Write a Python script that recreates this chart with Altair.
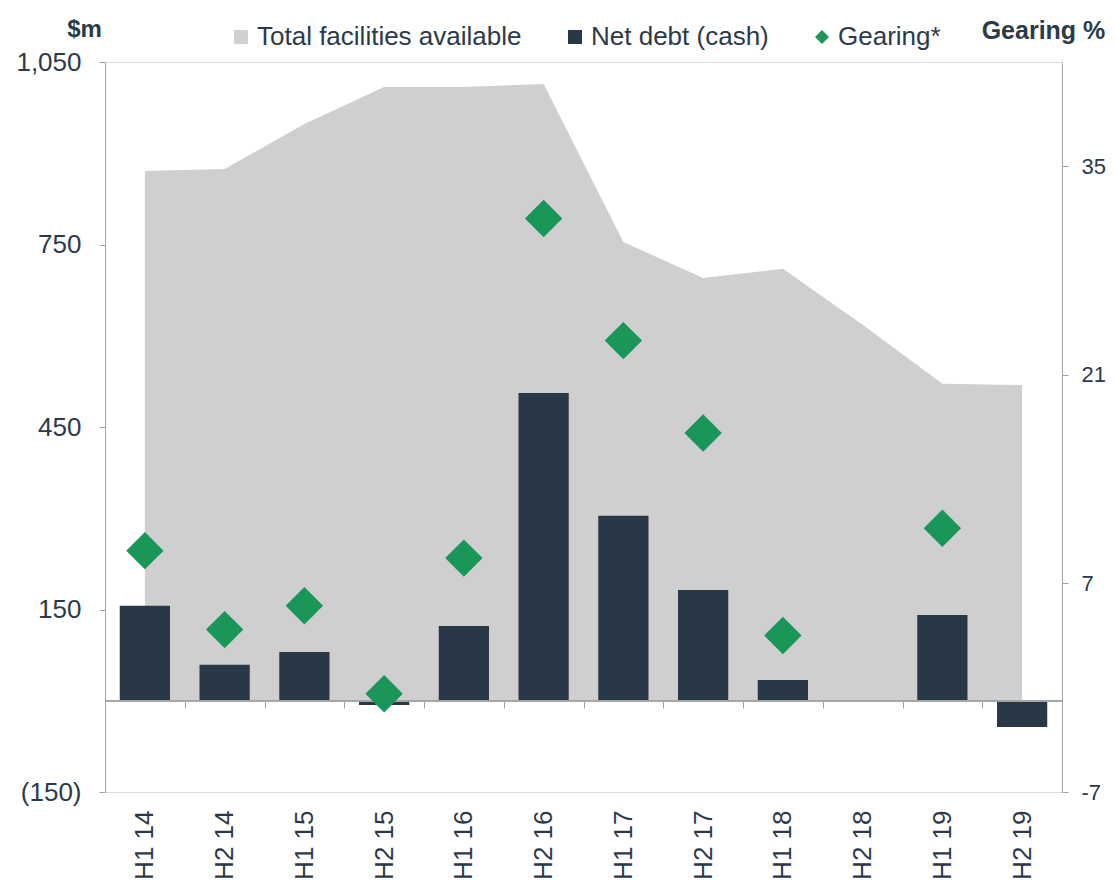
import altair as alt
import pandas as pd

periods = ["H1 14", "H2 14", "H1 15", "H2 15", "H1 16", "H2 16",
           "H1 17", "H2 17", "H1 18", "H2 18", "H1 19", "H2 19"]
facilities = [871, 874, 948, 1009, 1009, 1014, 754, 695, 710, 618, 521, 519]
net_debt = [156, 59, 80, -7, 123, 506, 304, 182, 34, 0, 141, -43]
gearing = [9.2, 3.9, 5.5, -0.4, 8.7, 31.5, 23.3, 17.1, 3.5, None, 10.7, None]

series_names = ["Total facilities available", "Net debt (cash)", "Gearing*"]
series_colors = ["#d0cfd0", "#293846", "#1a9659"]
series_shapes = ["square", "square", "diamond"]

left_ticks = [-150, 150, 450, 750, 1050]
right_ticks = [-7, 7, 21, 35]

df = pd.DataFrame({"period": periods, "facilities": facilities,
                   "net_debt": net_debt, "gearing": gearing})

FONT = "Liberation Sans"
TXT = "#2b3a4a"
AX = "#a6a6a6"

legend = alt.Legend(
    title=None, orient="none", direction="horizontal", legendX=123, legendY=-38,
    labelFontSize=26, labelFont=FONT, labelColor=TXT, symbolSize=196,
    columnPadding=40, labelOffset=3, symbolStrokeWidth=0, labelLimit=500,
)
color_scale = alt.Scale(domain=series_names, range=series_colors)
shape_scale = alt.Scale(domain=series_names, range=series_shapes)

x_enc = alt.X(
    "period:N", sort=periods,
    scale=alt.Scale(paddingInner=0, paddingOuter=0),
    axis=alt.Axis(title=None, offset=-99, domain=False, tickBand="extent",
                  tickSize=15, tickColor=AX, tickWidth=1,
                  labelAngle=270, labelAlign="right", labelBaseline="middle",
                  labelPadding=102, labelFontSize=26, labelFont=FONT,
                  labelColor=TXT),
)

y_left = alt.Scale(domain=[-150, 1050], nice=False, zero=False)
y_left_axis = alt.Axis(
    title="$m", values=left_ticks, grid=False, domainColor=AX, tickColor=AX,
    tickSize=6, labelPadding=18, labelFontSize=26, labelFont=FONT, labelColor=TXT,
    labelExpr="datum.value < 0 ? '(' + format(-datum.value, ',') + ')' : format(datum.value, ',')",
    titleAngle=0, titleX=-21, titleY=-33, titleAlign="center", titleBaseline="middle",
    titleFontSize=24, titleFont=FONT, titleFontWeight="bold", titleColor=TXT,
)

base = alt.Chart(df)

area = base.transform_calculate(series="'Total facilities available'").mark_area(
    opacity=1).encode(
    x=x_enc,
    y=alt.Y("facilities:Q", scale=y_left, axis=y_left_axis),
    y2=alt.datum(0),
    color=alt.Color("series:N", scale=color_scale, legend=legend),
)

bars = base.transform_calculate(series="'Net debt (cash)'").mark_bar(
    width=alt.RelativeBandSize(0.63)).encode(
    x=x_enc,
    y=alt.Y("net_debt:Q", scale=y_left, axis=y_left_axis),
    y2=alt.datum(0),
    color=alt.Color("series:N", scale=color_scale, legend=legend),
)

zero = base.mark_rule(color=AX, strokeWidth=1.5).encode(
    y=alt.Y(datum=0, scale=y_left, axis=y_left_axis))

left = alt.layer(area, bars, zero)

points = base.transform_filter("isValid(datum.gearing)").transform_calculate(
    series="'Gearing*'").mark_point(filled=True, size=1400, opacity=1).encode(
    x=x_enc,
    y=alt.Y("gearing:Q", scale=alt.Scale(domain=[-7, 42], nice=False, zero=False),
            axis=alt.Axis(title="Gearing %", orient="right", values=right_ticks,
                          grid=False, domainColor=AX, tickColor=AX, tickSize=6,
                          labelPadding=13, labelFontSize=22, labelFont=FONT,
                          labelColor=TXT, labelExpr="'' + datum.value",
                          titleAngle=0, titleX=-19, titleY=-32,
                          titleAlign="center", titleBaseline="middle",
                          titleFontSize=25, titleFont=FONT, titleFontWeight="bold",
                          titleColor=TXT)),
    color=alt.Color("series:N", scale=color_scale, legend=legend),
    shape=alt.Shape("series:N", scale=shape_scale, legend=legend),
)

chart = alt.layer(left, points).resolve_scale(y="independent").properties(
    width=957, height=730,
    autosize=alt.AutoSizeParams(type="none"),
    padding={"left": 97, "top": 54, "right": 46, "bottom": 88},
).configure_view(stroke=None).configure(font=FONT)

chart.save("out.html", embed_options={"renderer": "svg", "actions": False})
